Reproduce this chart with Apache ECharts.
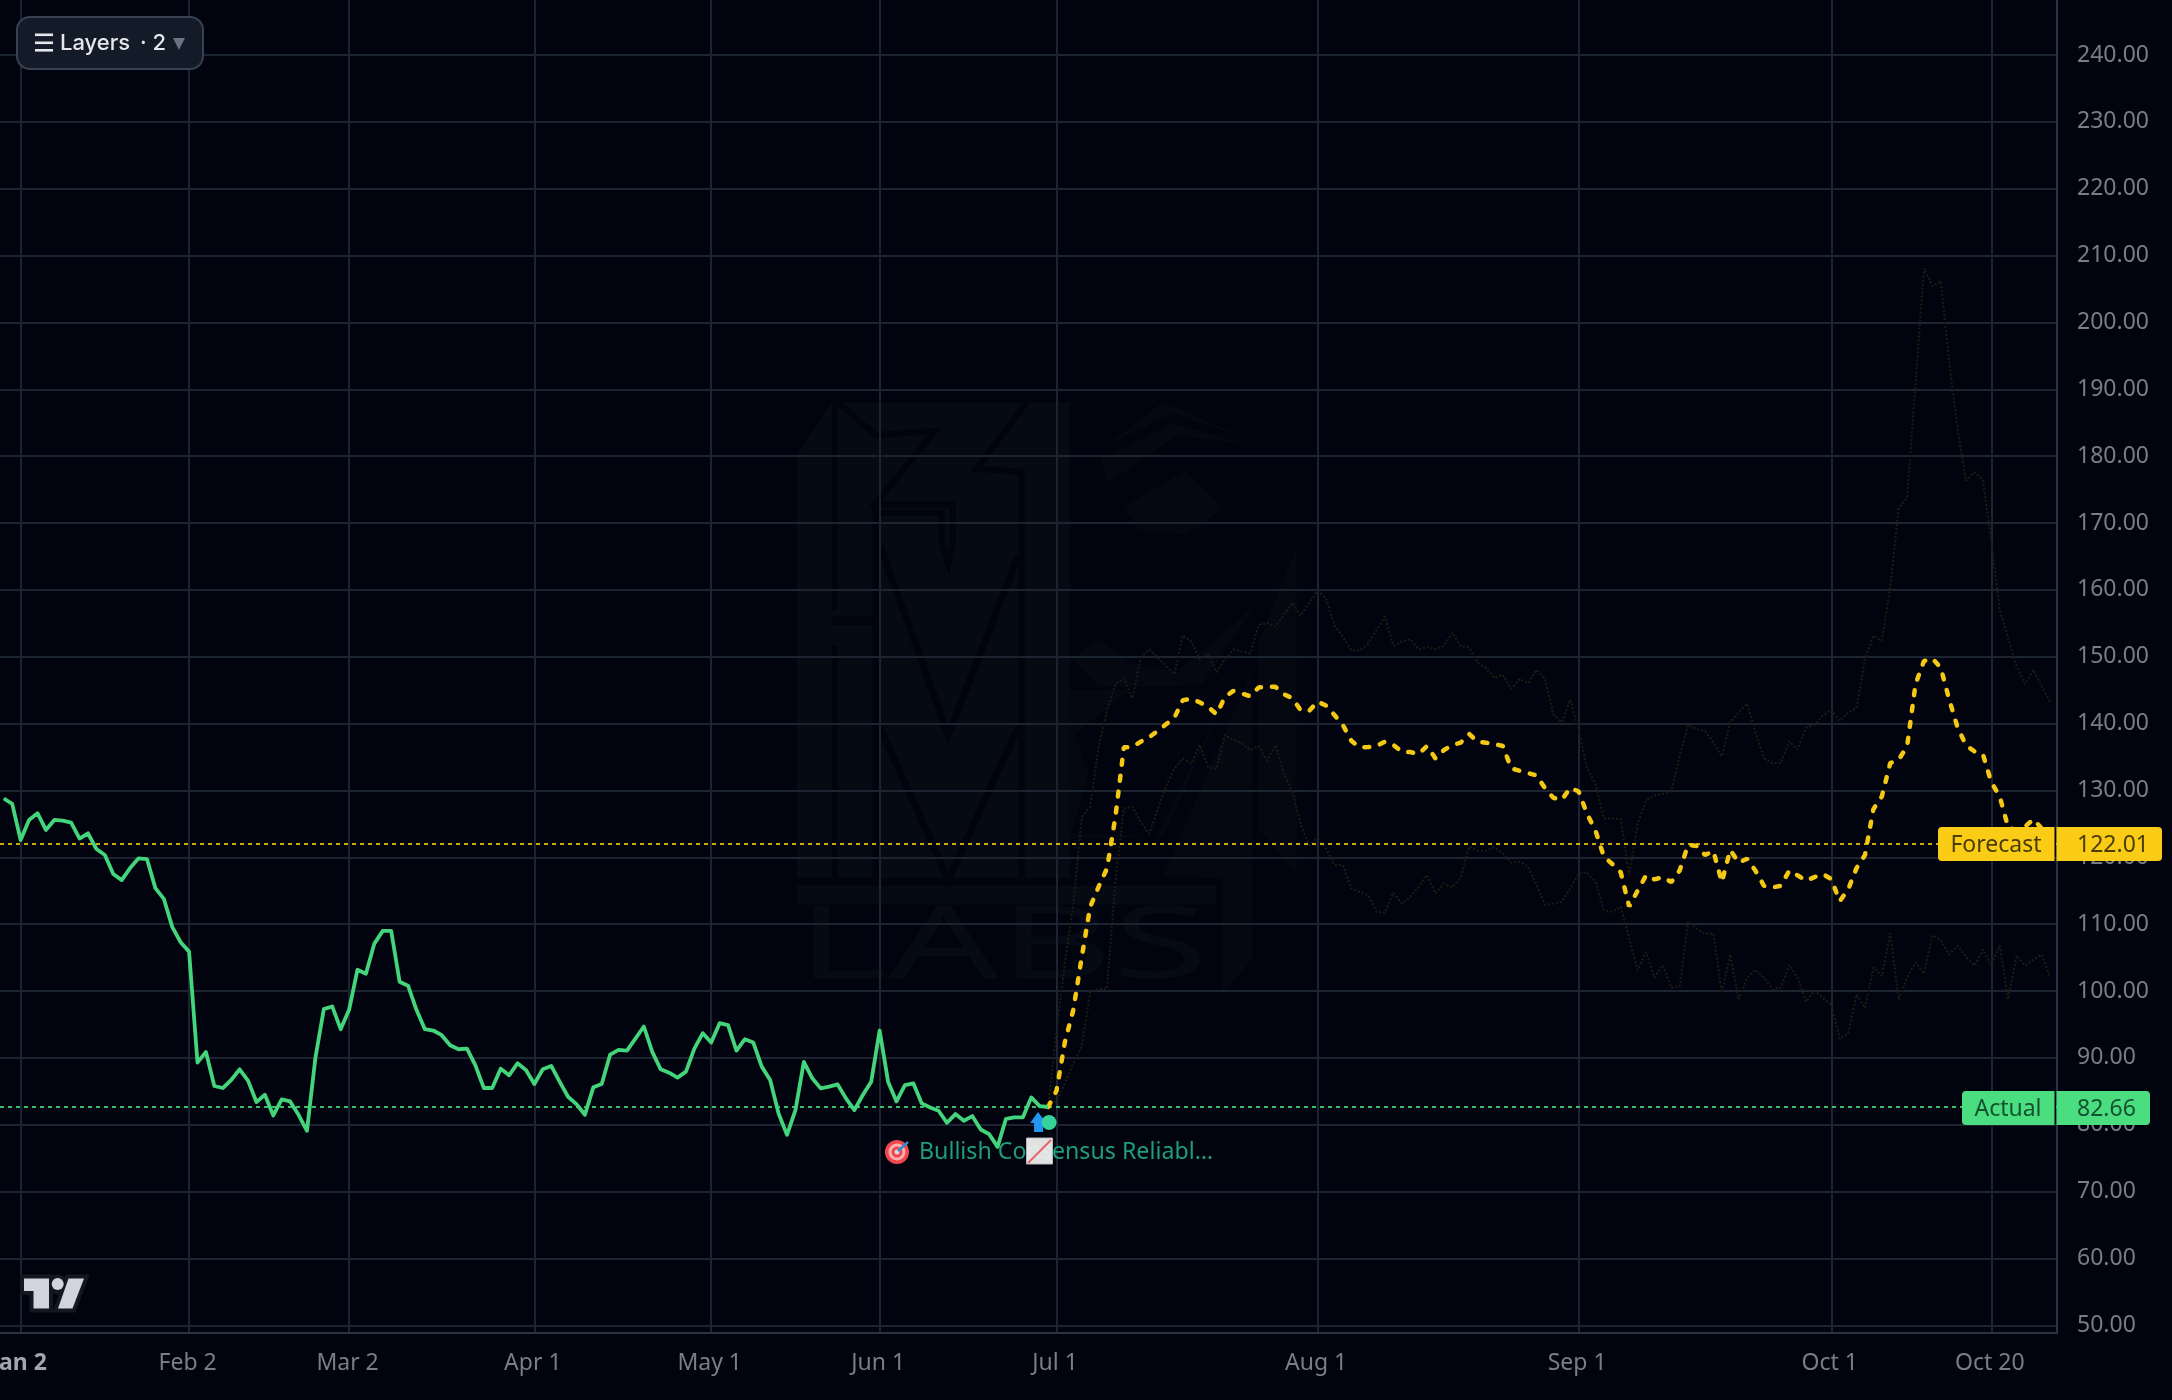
<!DOCTYPE html>
<html>
<head>
<meta charset="utf-8">
<title>Actual vs Forecast</title>
<style>html,body{margin:0;padding:0;background:#01040e}#chart{width:2172px;height:1400px}</style>
<script src="https://cdn.jsdelivr.net/npm/echarts@6/dist/echarts.min.js"></script>
</head>
<body>
<div id="chart"></div>
<script>
// One step on the x axis is one session: trading days up to July, calendar days after.
const tickIndex = [2, 22, 41, 63, 84, 104, 125, 156, 187, 217, 236];
const tickLabels = ['Jan 2', 'Feb 2', 'Mar 2', 'Apr 1', 'May 1', 'Jun 1', 'Jul 1', 'Aug 1', 'Sep 1', 'Oct 1', 'Oct 20'];
const priceTicks = [50, 60, 70, 80, 90, 100, 110, 120, 130, 140, 150, 160, 170, 180, 190, 200, 210, 220, 230, 240];

const actualStart = 0;
const actual = [
  128.8, 128.0, 122.6, 125.6, 126.6, 124.1, 125.6, 125.5, 125.2, 122.8, 123.6, 121.25, 120.35, 117.5, 116.6, 118.4,
  119.85, 119.75, 115.4, 113.8, 109.6, 107.3, 105.9, 89.3, 90.9, 85.8, 85.5, 86.7, 88.3, 86.6, 83.4, 84.5,
  81.4, 83.8, 83.5, 81.5, 79.1, 90, 97.3, 97.7, 94.3, 97.2, 103.2, 102.6, 107.1, 109, 109, 101.4,
  100.8, 97.2, 94.3, 94.1, 93.4, 91.9, 91.3, 91.4, 88.9, 85.5, 85.5, 88.4, 87.4, 89.2, 88.2, 86.1,
  88.3, 88.8, 86.45, 84.2, 83.1, 81.5, 85.6, 86.1, 90.5, 91.2, 91.1, 92.9, 94.7, 90.9, 88.3, 87.8,
  87.05, 87.95, 91.4, 93.7, 92.3, 95.2, 94.9, 91.1, 92.8, 92.3, 88.7, 86.7, 81.7, 78.5, 82.2, 89.4,
  86.95, 85.45, 85.7, 86.05, 83.95, 82.2, 84.45, 86.45, 94.1, 86.45, 83.5, 85.95, 86.2, 83.2, 82.6, 82.1,
  80.3, 81.6, 80.6, 81.3, 79.3, 78.6, 76.7, 80.9, 81.1, 81.1, 84.1, 82.8, 82.66
];

const scenarioStart = 124;
const forecast = [
  82.66, 85.1, 92.4, 97.2, 105.1, 112.6, 115.6, 118.35, 126.1, 136.45, 136.5, 137.3, 137.95, 138.9, 139.9, 140.9,
  143.5, 143.7, 143.2, 142.5, 141.4, 144, 144.9, 144.5, 144.1, 145.4, 145.5, 145.5, 144.4, 143.8, 142, 141.9,
  143.3, 142.7, 141.3, 139.8, 137.45, 136.45, 136.5, 136.65, 137.3, 136.8, 135.8, 135.75, 135.45, 136.65, 134.8, 136.05,
  136.8, 137.15, 138.45, 137.3, 137.15, 136.95, 136.65, 133.3, 132.95, 132.6, 132.25, 130.35, 128.9, 128.6, 130.4, 129.85,
  126.5, 124, 120.1, 119, 117.75, 112.65, 115, 117.3, 116.7, 117.05, 116.3, 118.05, 121.9, 121.7, 120.35, 120.95,
  116.3, 121.1, 119.2, 119.8, 118, 115.75, 115.5, 115.75, 118, 117.3, 116.5, 117.05, 117.5, 116.75, 113.45, 115.2,
  118.4, 120.35, 127.2, 129.1, 134.1, 134.6, 136.6, 145.9, 149.35, 149.75, 148.35, 143.6, 139.4, 136.75, 135.85, 135.4,
  131.25, 129.1, 124.5, 124, 124.6, 125.7, 124.3, 122.01
];
const upperScenario = [
  82.66, 94, 104.2, 113, 126, 127.6, 136.45, 141.95, 145.9, 146.8, 143.8, 149.9, 151.1, 149.9, 148.65, 147.4,
  153.2, 152.3, 149.6, 150.5, 147.7, 149.6, 151.1, 150.8, 150.5, 154.75, 155.05, 154.5, 156.25, 158.1, 156.15, 158,
  159.9, 158.75, 154.75, 153, 151, 150.9, 152, 154, 156, 151.6, 152.25, 152.65, 151.1, 151.5, 151.15, 151.6,
  153.6, 151.6, 151.4, 149.1, 148.3, 146.8, 147.3, 145.15, 146.7, 146.05, 148.05, 146.7, 141.35, 140.2, 143.6, 139,
  133.3, 131, 125.85, 125.85, 125.7, 117.3, 124.95, 128.5, 129.25, 129.5, 129.9, 135.2, 139.8, 139.2, 138.9, 137.15,
  135.1, 140.2, 141.7, 143, 138.65, 134.85, 134.1, 134.1, 137.35, 136.15, 139.4, 139.8, 141.2, 142.1, 140.4, 141.7,
  142.3, 149.7, 153.15, 152.4, 160.4, 172.25, 173.8, 190.95, 208.1, 205.45, 206.2, 194, 184.05, 176.3, 177.6, 176.45,
  167.3, 157, 152.8, 148.6, 145.9, 148.05, 145.5, 143.2
];
const lowerScenario = [
  82.66, 83.5, 86.2, 89.2, 91.7, 99.9, 100.3, 100.4, 116.6, 127.3, 127.6, 125.3, 123.5, 127.1, 130.6, 133.3,
  134.8, 134.05, 136.8, 133.55, 133.2, 138.3, 137.55, 137.05, 136.05, 136.65, 134.45, 136.8, 132.55, 129.8, 124.85, 121.85,
  122.85, 121.35, 118.85, 118.85, 115.35, 114.85, 114.35, 111.85, 111.7, 114.7, 113.1, 114.1, 115.6, 117.35, 114.6, 116.1,
  115.5, 117, 121.6, 121, 121, 121.5, 120.6, 119.2, 119.35, 118.6, 115.85, 112.9, 113.1, 113.35, 115.35, 117.6, 117.7,
  116.35, 112.1, 111.85, 112.6, 107.9, 103.15, 105.85, 102, 103.9, 100.5, 100.7, 110.4, 109.4, 108.5, 108.65, 99.75,
  105.45, 98.75, 102, 103.15, 102, 100.25, 100.5, 103.9, 102, 98.4, 100.1, 98.95, 97.95, 92.85, 93.6, 99.5, 97.45,
  103.55, 102.25, 108.65, 98.75, 102, 104.3, 102.6, 108.35, 107.6, 105.45, 106.8, 105.1, 103.8, 106.2, 103.9, 106.8,
  98.8, 105.3, 103.8, 104.7, 105.45, 102
];

const signalText = 'Bullish Consensus Reliabl\u2026';

const BG = '#01040e';
const AXIS_FONT = '"Noto Sans", sans-serif';
const LOGO_FILL = '#060a13';
const FACE_FILL = '#050811';

const toPairs = (values, start) => values.map((v, i) => [start + i, v]);

const chart = echarts.init(document.getElementById('chart'), null, { renderer: 'canvas' });

function priceLine(value, color) {
  return {
    silent: true,
    symbol: 'none',
    animation: false,
    label: { show: false },
    lineStyle: { color, type: [4, 4], width: 2, opacity: 0.9 },
    data: [[{ xAxis: -0.45, yAxis: value }, { xAxis: 243.8, yAxis: value }]]
  };
}

// Faint brand mark behind the plot, in page pixels.
const art = (x, y) => [760 + x / 3, 380 + y / 2.45];
const face = (x, y) => [1020 + x / 3, 390 + y / 2.53];
const mapPts = (fn, pts) => pts.map(p => fn(p[0], p[1]));
const logoFill = (fn, pts) => ({
  type: 'polygon', z: -2, silent: true,
  shape: { points: mapPts(fn, pts) }, style: { fill: fn === face ? FACE_FILL : LOGO_FILL }
});
const logoCut = (pts, width) => ({
  type: 'polyline', z: -1, silent: true,
  shape: { points: mapPts(art, pts) }, style: { stroke: BG, fill: 'none', lineWidth: width }
});
const logo = [
  logoFill(art, [[110, 1220], [110, 185], [215, 55], [930, 55], [930, 1220]]),
  logoCut([[235, 55], [345, 135], [525, 125], [345, 305], [578, 305], [578, 400], [565, 450], [545, 400], [545, 325], [350, 325]], 6),
  logoCut([[800, 55], [650, 218], [785, 225], [785, 1220]], 6),
  logoCut([[360, 405], [565, 870], [775, 430]], 7),
  logoCut([[360, 850], [565, 1225], [775, 850]], 7),
  logoCut([[225, 55], [225, 565]], 6),
  logoCut([[225, 650], [225, 1220]], 6),
  logoCut([[215, 590], [340, 590]], 9),
  logoCut([[348, 305], [348, 1220]], 7),
  logoFill(face, [[260, 140], [430, 30], [690, 125], [460, 60]]),
  logoFill(face, [[240, 175], [455, 85], [695, 140], [470, 115], [265, 235]]),
  logoFill(face, [[310, 295], [495, 205], [610, 300], [500, 365], [360, 355]]),
  logoFill(face, [[155, 680], [235, 630], [330, 690], [470, 715], [705, 545], [550, 740], [465, 750], [235, 750]]),
  logoFill(face, [[150, 760], [330, 760], [165, 870], [205, 970], [155, 1120], [410, 1130], [660, 700], [430, 1130], [150, 1135]]),
  logoFill(face, [[715, 640], [830, 395], [830, 1230], [735, 1125], [715, 1120]]),
  logoFill(face, [[430, 1230], [695, 710], [695, 1440], [605, 1530], [605, 1235]]),
  logoFill(art, [[110, 1240], [1368, 1240], [1368, 1285], [110, 1285]]),
  {
    type: 'text', z: -2, silent: true, x: 797, y: 900, scaleX: 1.74,
    style: { text: 'LABS', fill: LOGO_FILL, font: '100px "Noto Sans", sans-serif', textAlign: 'left', textVerticalAlign: 'top' }
  }
];

// Small broker mark in the bottom-left corner.
const brandLeft = [[24, 1278.5], [49, 1278.5], [49, 1308.5], [33.5, 1308.5], [33.5, 1291], [24, 1291]];
const brandSlash = [[68.5, 1278.5], [84, 1278.5], [72.5, 1308.5], [58, 1308.5]];
const brand = [
  { type: 'polygon', z: 30, silent: true, shape: { points: brandLeft }, style: { fill: '#131722', stroke: '#131722', lineWidth: 8, lineJoin: 'miter' } },
  { type: 'polygon', z: 30, silent: true, shape: { points: brandSlash }, style: { fill: '#131722', stroke: '#131722', lineWidth: 8, lineJoin: 'miter' } },
  { type: 'circle', z: 30, silent: true, shape: { cx: 57.7, cy: 1284.5, r: 10 }, style: { fill: '#131722' } },
  { type: 'polygon', z: 31, silent: true, shape: { points: brandLeft }, style: { fill: '#d1d4dc' } },
  { type: 'polygon', z: 31, silent: true, shape: { points: brandSlash }, style: { fill: '#d1d4dc' } },
  { type: 'circle', z: 31, silent: true, shape: { cx: 57.7, cy: 1284, r: 6 }, style: { fill: '#d1d4dc' } }
];

// Layer toggle in the top-left corner.
const layersButton = [
  {
    type: 'rect', z: 40, silent: true,
    shape: { x: 17, y: 17, width: 186, height: 52, r: 13 },
    style: { fill: '#131a28', stroke: '#374152', lineWidth: 2 }
  },
  { type: 'rect', z: 41, silent: true, shape: { x: 35, y: 33.5, width: 18, height: 2.6 }, style: { fill: '#e5e7eb' } },
  { type: 'rect', z: 41, silent: true, shape: { x: 35, y: 41.5, width: 18, height: 2.6 }, style: { fill: '#e5e7eb' } },
  { type: 'rect', z: 41, silent: true, shape: { x: 35, y: 49, width: 18, height: 2.6 }, style: { fill: '#e5e7eb' } },
  {
    type: 'text', z: 41, silent: true, x: 60, y: 43,
    style: { text: 'Layers', fill: '#e5e7eb', font: '500 22px Inter, sans-serif', textAlign: 'left', textVerticalAlign: 'middle' }
  },
  {
    type: 'text', z: 41, silent: true, x: 140, y: 43,
    style: { text: '\u00b7 2', fill: '#e5e7eb', font: '500 22px Inter, sans-serif', textAlign: 'left', textVerticalAlign: 'middle' }
  },
  { type: 'polygon', z: 41, silent: true, shape: { points: [[173, 38], [185, 38], [179, 50]] }, style: { fill: '#6b7280' } }
];

chart.setOption({
  animation: false,
  backgroundColor: BG,
  grid: { left: 0, right: 115, top: 0, bottom: 67, containLabel: false, outerBoundsMode: 'none' },
  xAxis: {
    type: 'value',
    min: -0.45,
    max: 243.8,
    axisLine: { show: true, onZero: false, lineStyle: { color: '#2a3243', width: 2 } },
    axisTick: { show: false, customValues: tickIndex },
    splitLine: { show: true, lineStyle: { color: '#1c2331', width: 2 } },
    axisLabel: {
      show: true,
      customValues: tickIndex,
      margin: 19,
      hideOverlap: false,
      showMinLabel: true,
      showMaxLabel: true,
      formatter: v => {
        const label = tickLabels[tickIndex.indexOf(v)] || '';
        return v === tickIndex[0] ? '{year|' + label + '}' : label;
      },
      color: '#7a7d88',
      fontFamily: AXIS_FONT,
      fontSize: 23,
      padding: [0, 3, 0, 0],
      rich: { year: { color: '#a3a6af', fontWeight: 700, fontFamily: AXIS_FONT, fontSize: 23 } }
    }
  },
  yAxis: {
    type: 'value',
    position: 'right',
    min: 48.86,
    max: 248.23,
    axisLine: { show: true, onZero: false, lineStyle: { color: '#2a3243', width: 2 } },
    axisTick: { show: false, customValues: priceTicks },
    splitLine: { show: true, lineStyle: { color: '#1c2331', width: 2 } },
    axisLabel: {
      show: true,
      customValues: priceTicks,
      margin: 20,
      padding: [3, 0, 0, 0],
      formatter: v => v.toFixed(2),
      color: '#7a7d88',
      fontFamily: AXIS_FONT,
      fontSize: 23
    }
  },
  series: [
    {
      name: 'Upper scenario', type: 'line', z: 3, showSymbol: false, silent: true,
      data: toPairs(upperScenario, scenarioStart),
      lineStyle: { color: '#1e1d14', width: 2, type: [2, 2] }
    },
    {
      name: 'Lower scenario', type: 'line', z: 3, showSymbol: false, silent: true,
      data: toPairs(lowerScenario, scenarioStart),
      lineStyle: { color: '#1e1d14', width: 2, type: [2, 2] }
    },
    {
      name: 'Forecast', type: 'line', z: 5, showSymbol: false, silent: true,
      data: toPairs(forecast, scenarioStart),
      lineStyle: { color: '#f5c814', width: 4.5, type: [5, 11], cap: 'round' },
      markLine: priceLine(forecast[forecast.length - 1], '#e6bb14')
    },
    {
      name: 'Actual', type: 'line', z: 6, showSymbol: false, silent: true,
      data: toPairs(actual, actualStart),
      lineStyle: { color: '#43d47c', width: 3.8, join: 'round' },
      markLine: priceLine(actual[actual.length - 1], '#3fd27a')
    }
  ]
});

// Marks tied to the last actual session and the two end-of-line price tags.
function priceTag(name, value, fill, ink, nameLeft, valueRight) {
  const y = Math.ceil(chart.convertToPixel({ yAxisIndex: 0 }, value));
  const top = y - 17;
  const box = (x, w, r) => ({
    type: 'rect', z: 50, silent: true,
    shape: { x, y: top, width: w, height: 34, r }, style: { fill }
  });
  return [
    box(nameLeft, 2054.5 - nameLeft, [4, 0, 0, 4]),
    box(2056.5, valueRight - 2056.5, [0, 4, 4, 0]),
    {
      type: 'text', z: 51, silent: true, x: (nameLeft + 2054) / 2, y: y + 1,
      style: { text: name, fill: ink, font: '23px "Noto Sans", sans-serif', textAlign: 'center', textVerticalAlign: 'middle' }
    },
    {
      type: 'text', z: 51, silent: true, x: 2077, y: y + 1,
      style: { text: value.toFixed(2), fill: ink, font: '23px "Noto Sans", sans-serif', textAlign: 'left', textVerticalAlign: 'middle' }
    }
  ];
}

const lastActual = actual[actual.length - 1];
const lastX = chart.convertToPixel({ xAxisIndex: 0 }, actualStart + actual.length - 1);
const lastY = chart.convertToPixel({ yAxisIndex: 0 }, lastActual);

const signalMarks = [
  // up arrow and dot under the last session
  {
    type: 'polygon', z: 20, silent: true,
    shape: { points: [[lastX - 18, lastY + 16], [lastX - 10, lastY + 5], [lastX - 2, lastY + 16], [lastX - 5, lastY + 16], [lastX - 5, lastY + 25], [lastX - 14, lastY + 25], [lastX - 14, lastY + 16]] },
    style: { fill: '#2196f3' }
  },
  { type: 'circle', z: 21, silent: true, shape: { cx: lastX + 1, cy: lastY + 15.5, r: 7.5 }, style: { fill: '#34d399' } },
  // signal caption
  {
    type: 'text', z: 4, silent: true, x: 919, y: lastY + 45.5,
    style: { text: signalText, fill: '#1f9e78', font: '23.2px "Noto Sans", sans-serif', textAlign: 'left', textVerticalAlign: 'middle' }
  },
  // target icon
  { type: 'circle', z: 22, silent: true, shape: { cx: 897, cy: lastY + 45, r: 12 }, style: { fill: '#f0474f' } },
  { type: 'circle', z: 22, silent: true, shape: { cx: 897, cy: lastY + 45, r: 8.5 }, style: { fill: '#fbb0ae' } },
  { type: 'circle', z: 22, silent: true, shape: { cx: 897, cy: lastY + 45, r: 5.5 }, style: { fill: '#f0474f' } },
  { type: 'circle', z: 22, silent: true, shape: { cx: 897, cy: lastY + 45, r: 2.5 }, style: { fill: '#d9d9d9' } },
  { type: 'line', z: 23, silent: true, shape: { x1: 898, y1: lastY + 44, x2: 908, y2: lastY + 35 }, style: { stroke: '#2b8fd6', lineWidth: 2.5 } },
  // chart icon
  { type: 'rect', z: 22, silent: true, shape: { x: 1026.5, y: lastY + 31, width: 26, height: 26 }, style: { fill: '#eeeeee', opacity: 0.95, stroke: '#b9bcc2', lineWidth: 1 } },
  { type: 'line', z: 23, silent: true, shape: { x1: 1028, y1: lastY + 56, x2: 1051, y2: lastY + 33 }, style: { stroke: '#e8646a', lineWidth: 2 } }
];

chart.setOption({
  graphic: {
    elements: logo
      .concat(brand)
      .concat(layersButton)
      .concat(signalMarks)
      .concat(priceTag('Forecast', forecast[forecast.length - 1], '#facc15', '#4a3d08', 1938, 2162))
      .concat(priceTag('Actual', lastActual, '#4ade80', '#14512e', 1962, 2150))
  }
});
</script>
</body>
</html>
